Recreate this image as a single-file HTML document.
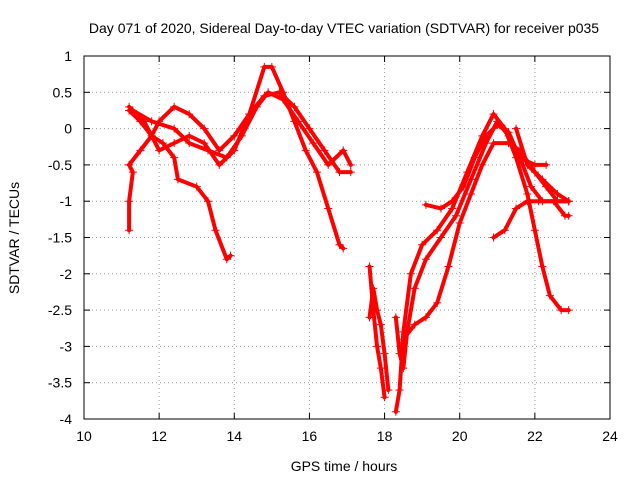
<!DOCTYPE html>
<html><head><meta charset="utf-8"><style>
body{margin:0;background:#fff;}
svg{display:block;font-family:"Liberation Sans",sans-serif;}
</style></head><body>
<svg id="chart" width="640" height="480">
<text x="344" y="33" font-size="14" text-anchor="middle">Day 071 of 2020, Sidereal Day-to-day VTEC variation (SDTVAR) for receiver p035</text>
<text x="344" y="471" font-size="14" text-anchor="middle">GPS time / hours</text>
<text transform="translate(19,238) rotate(-90)" font-size="14" text-anchor="middle">SDTVAR / TECUs</text>
<g id="grid"></g><g id="marks"></g>
<rect x="84" y="56" width="526" height="363" fill="none" stroke="#000"/>
</svg>
<script>
const xTicks=[10,12,14,16,18,20,22,24];
const yTicks=[1,0.5,0,-0.5,-1,-1.5,-2,-2.5,-3,-3.5,-4];
const yLabels=["1","0.5","0","-0.5","-1","-1.5","-2","-2.5","-3","-3.5","-4"];
const arc1=[[11.2,-0.5],[11.5,-0.3],[11.8,-0.1],[12.0,0.1],[12.4,0.3],[12.8,0.2],[13.2,0],[13.6,-0.3],[14.0,-0.1],[14.4,0.2],[14.8,0.45],[15.2,0.5],[15.6,0.3],[16.0,0],[16.4,-0.3],[16.8,-0.6],[17.1,-0.6]];
const arc2=[[11.2,0.25],[11.5,0.1],[11.8,-0.1],[12.1,-0.2],[12.4,-0.4],[12.5,-0.7],[13.0,-0.8],[13.3,-1.0],[13.5,-1.4],[13.8,-1.8],[13.9,-1.75]];
const arc3=[[11.2,0.3],[11.6,0.1],[12.0,-0.3],[12.4,-0.2],[12.8,-0.1],[13.2,-0.2],[13.6,-0.5],[14.0,-0.3],[14.4,0.2],[14.8,0.85],[15.0,0.85],[15.3,0.5],[15.6,0.1],[15.9,-0.3],[16.2,-0.6],[16.5,-1.1],[16.8,-1.6],[16.9,-1.65]];
const arc4=[[11.3,0.25],[11.8,0.1],[12.4,0],[12.8,-0.2],[13.3,-0.3],[13.8,-0.4],[14.2,-0.1],[14.6,0.3],[14.9,0.5],[15.3,0.4],[15.7,0.1],[16.1,-0.2],[16.5,-0.5],[16.9,-0.3],[17.1,-0.5]];
const arc5=[[17.6,-1.9],[17.7,-2.5],[17.8,-3.0],[17.9,-3.3],[18.0,-3.7]];
const arc6=[[17.6,-2.6],[17.7,-2.2],[17.8,-2.5],[17.9,-2.7],[18.0,-3.1],[18.1,-3.6]];
const arc7=[[18.3,-2.6],[18.4,-3.1],[18.5,-3.3],[18.6,-2.8],[18.8,-2.2],[19.1,-1.8],[19.5,-1.5],[19.9,-1.2],[20.3,-0.7],[20.7,-0.2],[21.0,0.1],[21.3,-0.1],[21.6,-0.4],[21.9,-0.8],[22.2,-1.0],[22.6,-1.0],[22.9,-1.0]];
const arc8=[[18.3,-3.9],[18.4,-3.6],[18.5,-2.8],[18.7,-2.0],[19.0,-1.6],[19.4,-1.4],[19.8,-1.1],[20.2,-0.6],[20.6,-0.1],[20.9,0.2],[21.2,0],[21.5,-0.4],[21.8,-0.9],[22.0,-1.4],[22.2,-1.9],[22.4,-2.3],[22.7,-2.5],[22.9,-2.5]];
const arc9=[[18.5,-2.9],[18.8,-2.7],[19.1,-2.6],[19.4,-2.4],[19.7,-1.9],[20.0,-1.3],[20.3,-0.9],[20.6,-0.5],[20.9,-0.2],[21.3,-0.2],[21.6,-0.3],[22.0,-0.6],[22.3,-0.8],[22.6,-1.0],[22.9,-1.0]];
const arc10=[[19.1,-1.05],[19.5,-1.1],[19.8,-1.0],[20.1,-0.8],[20.4,-0.4],[20.7,-0.1],[21.0,0.05],[21.3,-0.05],[21.6,-0.4],[22.0,-0.5],[22.3,-0.5]];
const arc11=[[20.9,-1.5],[21.2,-1.4],[21.5,-1.1],[21.8,-1.0],[22.1,-1.0],[22.5,-1.0],[22.8,-1.2],[22.9,-1.2]];
const arc12=[[21.5,0],[21.8,-0.5],[22.2,-0.7],[22.6,-0.9],[22.9,-1.0]];
const arc13=[[11.2,-1.4],[11.2,-1.0],[11.3,-0.6],[11.2,-0.5]];
const arcs=[arc1,arc2,arc3,arc4,arc5,arc6,arc7,arc8,arc9,arc10,arc11,arc12,arc13];
const X=v=>84+(v-10)*(526/14);
const Y=v=>56+(1-v)*(363/5);
const NS="http://www.w3.org/2000/svg";
const grid=document.getElementById('grid'),marks=document.getElementById('marks');
function mk(tag,attrs,parent){const e=document.createElementNS(NS,tag);for(const k in attrs)e.setAttribute(k,attrs[k]);parent.appendChild(e);return e;}
xTicks.forEach(t=>{
  const x=X(t);
  if(t>10&&t<24){const g=mk('line',{x1:x,x2:x,y1:56,y2:419,stroke:'#999','stroke-dasharray':'1,3'},grid);
  
  }
  mk('line',{x1:x,x2:x,y1:419,y2:413,stroke:'#000'},grid);
  mk('line',{x1:x,x2:x,y1:56,y2:62,stroke:'#000'},grid);
  const l=mk('text',{x:x,y:441,'font-size':14,'text-anchor':'middle'},grid);l.textContent=t;
  
  
});
yTicks.forEach((t,i)=>{
  const y=Y(t);
  if(t<1&&t>-4){const g=mk('line',{x1:84,x2:610,y1:y,y2:y,stroke:'#999','stroke-dasharray':'1,3'},grid);
  
  }
  mk('line',{x1:84,x2:90,y1:y,y2:y,stroke:'#000'},grid);
  mk('line',{x1:604,x2:610,y1:y,y2:y,stroke:'#000'},grid);
  const l=mk('text',{x:72,y:y+5,'font-size':14,'text-anchor':'end'},grid);l.textContent=yLabels[i];
  
  
});
arcs.forEach(a=>{
  const p=mk('polyline',{points:a.map(d=>X(d[0])+','+Y(d[1])).join(' '),fill:'none',stroke:'#f00','stroke-width':4,'stroke-linejoin':'round','stroke-linecap':'round'},marks);
  
  
  a.forEach(d=>{
    const x=X(d[0]),y=Y(d[1]);
    const m=mk('path',{d:`M${x-4},${y}h8M${x},${y-4}v8`,stroke:'#f00','stroke-width':1},marks);
    
    
  });
});
</script>
</body></html>
